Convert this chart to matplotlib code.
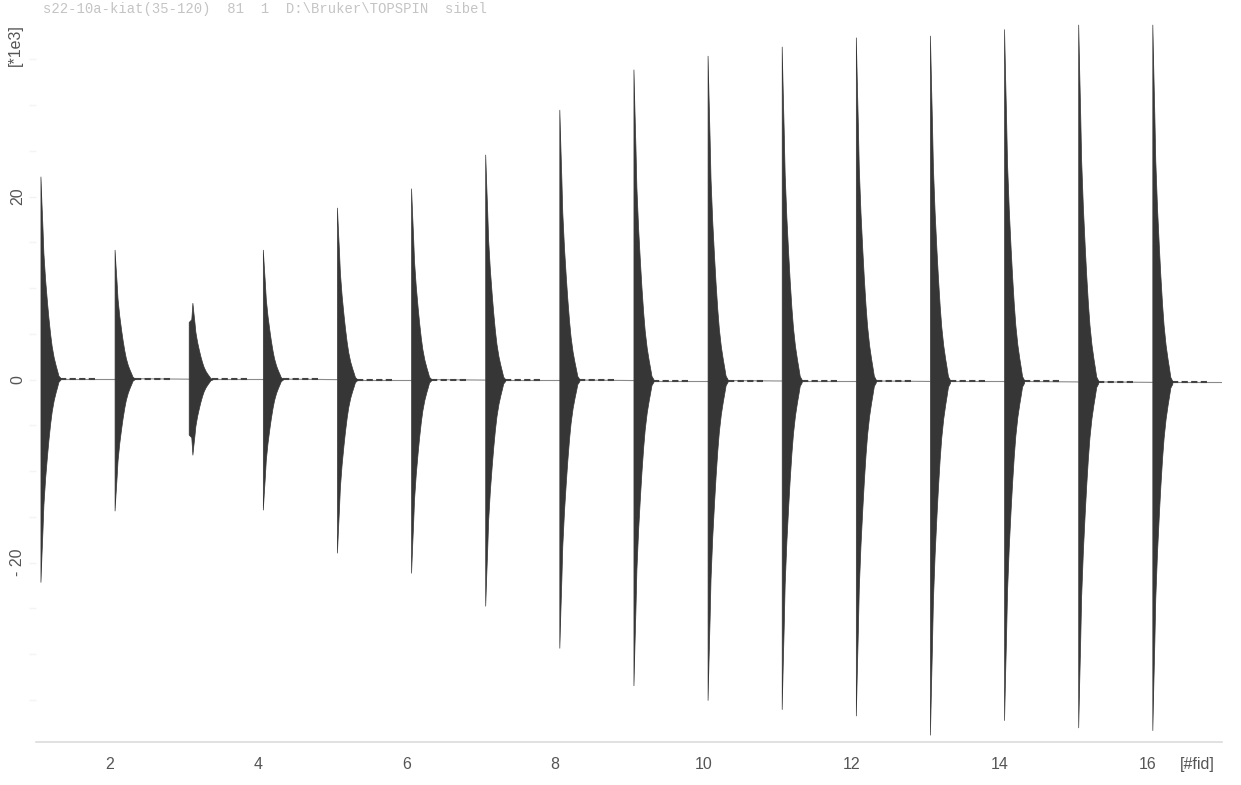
import matplotlib.pyplot as plt
from matplotlib.ticker import FixedLocator

# fid number and envelope extremes of each decay, in units of 1e3
fid_numbers = list(range(1, 17))
peak_pos = [22.2, 14.2, 8.4, 14.2, 18.8, 20.9, 24.6, 29.5,
            33.9, 35.4, 36.4, 37.4, 37.6, 38.3, 38.8, 38.8]
peak_neg = [-22.1, -14.3, -8.2, -14.2, -18.9, -21.1, -24.7, -29.3,
            -33.4, -35.0, -36.0, -36.7, -38.8, -37.2, -38.0, -38.3]
baseline = [0.1, 0.1, 0.05, 0.05, 0.0, 0.0, -0.05, -0.05,
            -0.1, -0.1, -0.15, -0.15, -0.2, -0.2, -0.25, -0.3]

env_offset = [0, 0.0135, 0.027, 0.040, 0.063, 0.088, 0.108, 0.131,
              0.152, 0.179, 0.206, 0.225, 0.243, 0.270]
env_frac = [1.0, 0.87, 0.75, 0.62, 0.49, 0.38, 0.30, 0.22,
            0.16, 0.105, 0.065, 0.04, 0.015, 0.004]

# fid 3 has a short lower lead before its maximum
fid3_lead_offset = [0.0, 0.035]
fid3_lead_pos = [6.3, 6.6]
fid3_lead_neg = [-6.0, -6.3]
fid3_peak_offset = 0.05

y_ticks = [-20, 0, 20]
y_minor = [-35, -30, -25, -15, -10, -5, 5, 10, 15, 25, 30, 35]
x_ticks = [2, 4, 6, 8, 10, 12, 14, 16]
header = "s22-10a-kiat(35-120)  81  1  D:\\Bruker\\TOPSPIN  sibel"

DARK = "#363636"
LABEL = "#555555"
START = 0.06  # each fid starts a little after its slot number

plt.rcParams["font.family"] = ["Liberation Sans", "DejaVu Sans"]

fig = plt.figure(figsize=(12.41, 7.85), dpi=100)
ax = fig.add_axes([36 / 1241, 1 - 742 / 785, 1186 / 1241, 722 / 785])

for i, k in enumerate(fid_numbers):
    b = baseline[i]
    x0 = k + START
    shift = fid3_peak_offset if k == 3 else 0.0
    xs = [x0 + shift + t for t in env_offset]
    top = [b + (peak_pos[i] - b) * f for f in env_frac]
    bot = [b + (peak_neg[i] - b) * f for f in env_frac]
    if k == 3:
        xs = [x0 + t for t in fid3_lead_offset] + xs
        top = fid3_lead_pos + top
        bot = fid3_lead_neg + bot
    ax.fill_between(xs, bot, top, color=DARK, linewidth=0.5, edgecolor=DARK, zorder=3)

    x_next = (fid_numbers[i + 1] + START) if i + 1 < len(fid_numbers) else 17.0
    b_next = baseline[i + 1] if i + 1 < len(fid_numbers) else b
    ax.plot([xs[-1], x_next], [b, b_next], color="#8a8a8a", linewidth=0.8, zorder=2)
    ax.plot([xs[-1], xs[-1] + 0.5], [b, b], color="#444444", linewidth=1.5,
            dashes=(3, 1.6), zorder=2)

ax.set_xlim(1.0, 17.0)
ax.set_ylim(-39.6, 39.3)

for side in ["top", "right", "left"]:
    ax.spines[side].set_visible(False)
ax.spines["bottom"].set_color("#dcdcdc")
ax.spines["bottom"].set_linewidth(1.2)

ax.set_xticks(x_ticks)
ax.set_xticklabels([str(v) for v in x_ticks])
ax.tick_params(axis="x", length=0, pad=11, labelsize=11.5, labelcolor=LABEL)

ax.set_yticks(y_ticks)
ax.set_yticklabels(["- 20" if v < 0 else str(v) for v in y_ticks], rotation=90, va="center")
ax.yaxis.set_minor_locator(FixedLocator(y_minor))
ax.tick_params(axis="y", which="major", length=5, width=1, color="#f2f2f2",
               pad=3, labelsize=11.5, labelcolor=LABEL)
ax.tick_params(axis="y", which="minor", length=5, width=1, color="#f4f4f4")

fig.text(15 / 1241, 1 - 45 / 785, "[*1e3]", rotation=90, ha="center", va="center",
         fontsize=11.5, color=LABEL)
fig.text(1197 / 1241, 1 - 765 / 785, "[#fid]", ha="center", va="center",
         fontsize=11.5, color=LABEL)
fig.text(43 / 1241, 1 - 9 / 785, header, ha="left", va="center",
         fontsize=10, color="#c4c4c4", family="Liberation Mono")

fig.savefig("out.png", dpi=100)
plt.close(fig)
